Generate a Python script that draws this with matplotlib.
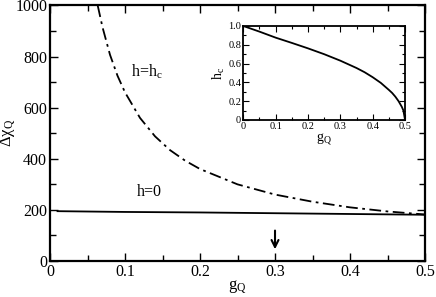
import matplotlib
matplotlib.use("Agg")
import matplotlib.pyplot as plt
from matplotlib.ticker import MultipleLocator

plt.rcParams["font.family"] = ["Liberation Serif", "DejaVu Serif"]
plt.rcParams["mathtext.fontset"] = "custom"
plt.rcParams["mathtext.rm"] = "Liberation Serif"
plt.rcParams["mathtext.it"] = "Liberation Serif"

# main panel: h = h_c (dash-dot) and h = 0 (solid)
g_hc = [0.0636, 0.07, 0.08, 0.09, 0.10, 0.12, 0.14, 0.16, 0.18, 0.20,
        0.25, 0.30, 0.35, 0.40, 0.45, 0.50]
chi_hc = [1000, 915, 807, 725, 660, 560, 488, 434, 393, 360,
          300, 260, 232, 210, 194, 182]
g_h0 = [0.01, 0.1, 0.2, 0.3, 0.4, 0.5]
chi_h0 = [195, 192, 190, 187, 184, 181]

# inset: critical field h_c vs g_Q
g_in = [0.0, 0.05, 0.1, 0.15, 0.2, 0.25, 0.3, 0.35, 0.375, 0.4, 0.425,
        0.45, 0.46, 0.47, 0.48, 0.49, 0.495, 0.5]
hc_in = [1.0, 0.94, 0.876, 0.82, 0.762, 0.70, 0.631, 0.553, 0.508, 0.455,
         0.395, 0.32, 0.288, 0.248, 0.2, 0.14, 0.1, 0.0]

arrow_g = 0.3


def fmt(v, p):
    return "0" if v == 0 else f"{v:.1f}"


fig = plt.figure(figsize=(4.36, 2.97), dpi=100)
ax = fig.add_axes([0.1147, 0.1212, 0.8601, 0.8603])

ln, = ax.plot(g_hc, chi_hc, color="black", lw=1.3)
ln.set_dashes([6.5, 2.5, 1.5, 2.5])
ax.plot(g_h0, chi_h0, color="black", lw=1.3)

ax.set_xlim(0, 0.5)
ax.set_ylim(0, 1000)
ax.xaxis.set_major_locator(MultipleLocator(0.1))
ax.xaxis.set_minor_locator(MultipleLocator(0.05))
ax.yaxis.set_major_locator(MultipleLocator(200))
ax.yaxis.set_minor_locator(MultipleLocator(100))
ax.xaxis.set_major_formatter(plt.FuncFormatter(fmt))
ax.tick_params(which="both", direction="in", top=True, right=True,
               labelsize=11.5, width=1.0, pad=2)
ax.tick_params(which="major", length=6)
ax.tick_params(which="minor", length=4)
for s in ax.spines.values():
    s.set_linewidth(1.6)

ax.set_xlabel(r"g$_\mathrm{Q}$", fontsize=12, labelpad=-1)
ax.set_ylabel(r"$\Delta\chi_\mathrm{Q}$", fontsize=12, labelpad=-2)

ax.text(0.108, 740, r"h=h$_\mathrm{c}$", fontsize=11.5, va="center")
ax.text(0.116, 270, "h=0", fontsize=11.5, va="center")

ax.annotate("", xy=(arrow_g, 35), xytext=(arrow_g, 130),
            arrowprops=dict(arrowstyle="->,head_length=0.5,head_width=0.25",
                            color="black", lw=1.5))

# inset
axi = fig.add_axes([0.558, 0.596, 0.371, 0.3165])
axi.plot(g_in, hc_in, color="black", lw=1.3)
axi.set_xlim(0, 0.5)
axi.set_ylim(0, 1)
axi.xaxis.set_major_locator(MultipleLocator(0.1))
axi.xaxis.set_minor_locator(MultipleLocator(0.05))
axi.yaxis.set_major_locator(MultipleLocator(0.2))
axi.yaxis.set_minor_locator(MultipleLocator(0.1))
axi.xaxis.set_major_formatter(plt.FuncFormatter(fmt))
axi.yaxis.set_major_formatter(plt.FuncFormatter(lambda v, p: f"{v:.0f}" if v in (0, 1) else f"{v:.1f}"))
axi.tick_params(which="both", direction="in", top=True, right=True,
                labelsize=7.5, width=0.8, pad=1.5)
axi.tick_params(which="major", length=4)
axi.tick_params(which="minor", length=2.5)
for s in axi.spines.values():
    s.set_linewidth(1.3)
axi.set_xlabel(r"g$_\mathrm{Q}$", fontsize=10, labelpad=0)
axi.set_ylabel(r"h$_\mathrm{c}$", fontsize=10, labelpad=1)

fig.savefig("out.png", dpi=100)
